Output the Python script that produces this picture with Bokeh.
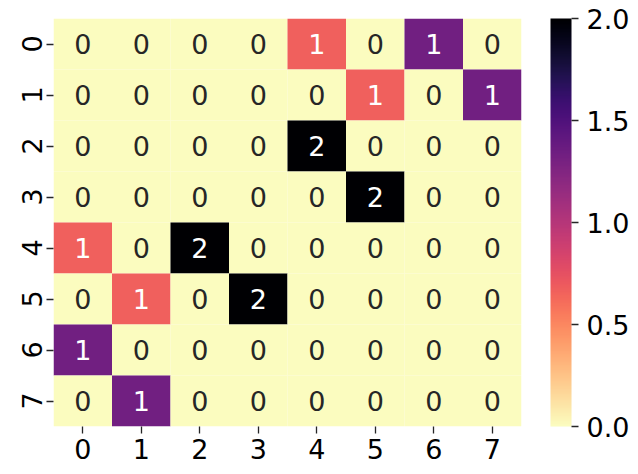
import numpy as np
from bokeh.plotting import figure
from bokeh.models import (LinearColorMapper, ColorBar, ColumnDataSource, FixedTicker,
                          FactorRange, PrintfTickFormatter)
from bokeh.palettes import Magma256
from bokeh.embed import file_html
from bokeh.resources import INLINE
from bokeh.core.properties import value

row_labels = ["0", "1", "2", "3", "4", "5", "6", "7"]
col_labels = ["0", "1", "2", "3", "4", "5", "6", "7"]
matrix = [
    [0, 0, 0, 0, 0.67, 0, 1.33, 0],
    [0, 0, 0, 0, 0, 0.67, 0, 1.33],
    [0, 0, 0, 0, 2, 0, 0, 0],
    [0, 0, 0, 0, 0, 2, 0, 0],
    [0.67, 0, 2, 0, 0, 0, 0, 0],
    [0, 0.67, 0, 2, 0, 0, 0, 0],
    [1.33, 0, 0, 0, 0, 0, 0, 0],
    [0, 1.33, 0, 0, 0, 0, 0, 0],
]
cbar_ticks = [0.0, 0.5, 1.0, 1.5, 2.0]

xs, ys, vals, labels, tcolors = [], [], [], [], []
for i, r in enumerate(row_labels):
    for j, c in enumerate(col_labels):
        v = matrix[i][j]
        xs.append(c)
        ys.append(r)
        vals.append(v)
        labels.append("%.0f" % v)
        tcolors.append("white" if v > 0.5 else "#262626")
src = ColumnDataSource(dict(x=xs, y=ys, v=vals, label=labels, tc=tcolors))

mapper = LinearColorMapper(palette=list(Magma256[::-1]), low=0, high=2)

p = figure(width=638, height=474, x_range=FactorRange(*col_labels, range_padding=0),
           y_range=FactorRange(*row_labels[::-1], range_padding=0),
           output_backend="svg", toolbar_location=None,
           frame_width=468, frame_height=408,
           min_border_left=53, min_border_top=18, min_border_bottom=48, min_border_right=0)
p.outline_line_color = None
p.grid.visible = False
p.rect(x="x", y="y", width=1, height=1, source=src,
       fill_color={"field": "v", "transform": mapper}, line_color=None)
p.text(x="x", y="y", text="label", source=src, text_color="tc",
       text_align="center", text_baseline="middle",
       text_font=value("DejaVu Sans"), text_font_size="27px")

for ax in (p.xaxis, p.yaxis):
    ax.axis_line_color = None
    ax.major_tick_line_color = "#262626"
    ax.major_tick_line_width = 1.3
    ax.major_tick_out = 7
    ax.major_tick_in = 0
    ax.minor_tick_line_color = None
    ax.major_label_text_font = "DejaVu Sans"
    ax.major_label_text_font_size = "27px"
    ax.major_label_text_color = "#000000"
    ax.major_label_standoff = 5
p.yaxis.major_label_orientation = "vertical"

cb = ColorBar(color_mapper=mapper, ticker=FixedTicker(ticks=cbar_ticks),
              formatter=PrintfTickFormatter(format="%.1f"),
              width=21, height=408, padding=0, margin=0, location=(29, 0),
              major_tick_out=7, major_tick_in=0, major_tick_line_color="#262626",
              major_tick_line_width=1.3, bar_line_color=None,
              major_label_text_font="DejaVu Sans", major_label_text_font_size="27px",
              major_label_text_color="#000000", label_standoff=8,
              minor_tick_line_color=None, background_fill_color=None)
p.add_layout(cb, "right")

open("out.html", "w").write(file_html(p, INLINE))
